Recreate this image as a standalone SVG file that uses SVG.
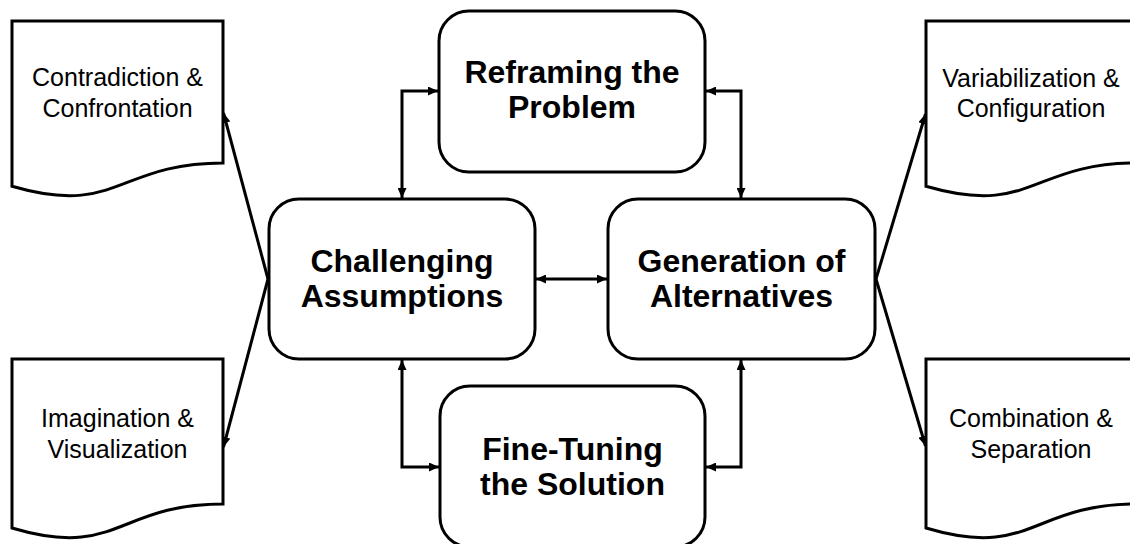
<svg xmlns="http://www.w3.org/2000/svg" width="1130" height="544" viewBox="0 0 1130 544">
<style>
.box{fill:#fff;stroke:#000;stroke-width:3}
.doc{fill:#fff;stroke:#000;stroke-width:3;stroke-linejoin:miter}
.bt{font-family:"Liberation Sans",Arial,sans-serif;font-weight:bold;font-size:32px;fill:#000;text-anchor:middle}
.dt{font-family:"Liberation Sans",Arial,sans-serif;font-size:25px;fill:#000;text-anchor:middle}
.con{fill:none;stroke:#000;stroke-width:3}
</style>
<defs>
<marker id="ah" viewBox="0 0 10 9" refX="10" refY="4.5" markerWidth="10" markerHeight="9" markerUnits="userSpaceOnUse" orient="auto-start-reverse">
<path d="M0,0 L10,4.5 L0,9 z" fill="#000"/>
</marker>
</defs>
<rect width="1130" height="544" fill="#fff"/>

<g id="doc-contradiction">
<path class="doc" d="M12,21 H223 V163 C117.5,163 117.5,217 12,186.3 Z"/>
<text class="dt" x="117.5" y="86">Contradiction &amp;</text>
<text class="dt" x="117.5" y="117">Confrontation</text>
</g>
<g id="doc-imagination">
<path class="doc" d="M12,359 H223 V504 C117.5,504 117.5,559.5 12,528 Z"/>
<text class="dt" x="117.5" y="427">Imagination &amp;</text>
<text class="dt" x="117.5" y="458">Visualization</text>
</g>
<g id="doc-variabilization">
<path class="doc" d="M926,21 H1137 V163 C1031.5,163 1031.5,217 926,186.3 Z"/>
<text class="dt" x="1031" y="87">Variabilization &amp;</text>
<text class="dt" x="1031" y="117">Configuration</text>
</g>
<g id="doc-combination">
<path class="doc" d="M926,359 H1137 V504 C1031.5,504 1031.5,559.5 926,528 Z"/>
<text class="dt" x="1031" y="427">Combination &amp;</text>
<text class="dt" x="1031" y="458">Separation</text>
</g>

<g id="node-reframing">
<rect class="box" x="439" y="11" width="266" height="161" rx="30" ry="30"/>
<text class="bt" x="572" y="83">Reframing the</text>
<text class="bt" x="572" y="118">Problem</text>
</g>
<g id="node-challenging">
<rect class="box" x="269" y="199" width="266" height="160" rx="30" ry="30"/>
<text class="bt" x="402" y="272">Challenging</text>
<text class="bt" x="402" y="307">Assumptions</text>
</g>
<g id="node-generation">
<rect class="box" x="608" y="199" width="267" height="160" rx="30" ry="30"/>
<text class="bt" x="741.5" y="272">Generation of</text>
<text class="bt" x="741.5" y="307">Alternatives</text>
</g>
<g id="node-finetuning">
<rect class="box" x="440" y="386" width="265" height="161" rx="30" ry="30"/>
<text class="bt" x="572.5" y="460">Fine-Tuning</text>
<text class="bt" x="572.5" y="495">the Solution</text>
</g>

<g id="connectors">
<path class="con" d="M438,91 H402 V198" marker-start="url(#ah)" marker-end="url(#ah)"/>
<path class="con" d="M706,91 H741 V198" marker-start="url(#ah)" marker-end="url(#ah)"/>
<path class="con" d="M536,279 H607" marker-start="url(#ah)" marker-end="url(#ah)"/>
<path class="con" d="M402,360 V467 H439" marker-start="url(#ah)" marker-end="url(#ah)"/>
<path class="con" d="M741,360 V467 H706" marker-start="url(#ah)" marker-end="url(#ah)"/>
<path class="con" d="M268,279 L223.5,113" marker-end="url(#ah)"/>
<path class="con" d="M268,279 L223.5,447" marker-end="url(#ah)"/>
<path class="con" d="M876,279 L925.5,114" marker-end="url(#ah)"/>
<path class="con" d="M876,279 L925.5,446" marker-end="url(#ah)"/>
</g>
</svg>
